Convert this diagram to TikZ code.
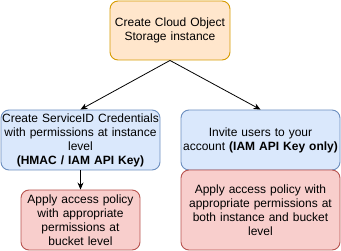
\documentclass[tikz,border=0pt]{standalone}
\usepackage{fontspec}
\setmainfont{Liberation Sans}
\usetikzlibrary{arrows.meta}
\definecolor{orangefill}{HTML}{FFE6CC}
\definecolor{orangeline}{HTML}{D79B00}
\definecolor{bluefill}{HTML}{DAE8FC}
\definecolor{blueline}{HTML}{6C8EBF}
\definecolor{redfill}{HTML}{F8CECC}
\definecolor{redline}{HTML}{B85450}
\begin{document}
\begin{tikzpicture}[x=1pt,y=-1pt,
  box/.style={draw, rounded corners=8pt, line width=0.9pt, inner sep=0pt,
    align=center, font=\fontsize{12}{14}\selectfont},
  orangebox/.style={box, fill=orangefill, draw=orangeline},
  bluebox/.style={box, fill=bluefill, draw=blueline},
  redbox/.style={box, fill=redfill, draw=redline},
  link/.style={draw, line width=0.8pt, -{Stealth[length=7pt,width=6pt]}}]
\useasboundingbox (0,0) rectangle (341,251);
\node[orangebox, minimum width=120pt, minimum height=59pt, text width=118pt]
  (cos) at (170,30.5) {Create Cloud Object\\Storage instance};
\node[bluebox, minimum width=159pt, minimum height=60pt, text width=159pt]
  (sid) at (80.5,140) {Create ServiceID Credentials\\with permissions at instance\\level\\\textbf{(HMAC / IAM API Key)}};
\node[bluebox, minimum width=159pt, minimum height=60pt, text width=157pt]
  (inv) at (260.5,140) {Invite users to your\\account \textbf{(IAM API Key only)}};
\node[redbox, minimum width=119pt, minimum height=60pt, text width=117pt]
  (pb) at (80.5,220) {Apply access policy\\with appropriate\\permissions at\\bucket level};
\node[redbox, minimum width=159pt, minimum height=80pt, text width=157pt]
  (pib) at (260.5,210) {Apply access policy with\\appropriate permissions at\\both instance and bucket\\level};
\draw[link] (cos.south) -- (sid.north);
\draw[link] (cos.south) -- (inv.north);
\draw[link] (sid.south) -- (pb.north);
\end{tikzpicture}
\end{document}
